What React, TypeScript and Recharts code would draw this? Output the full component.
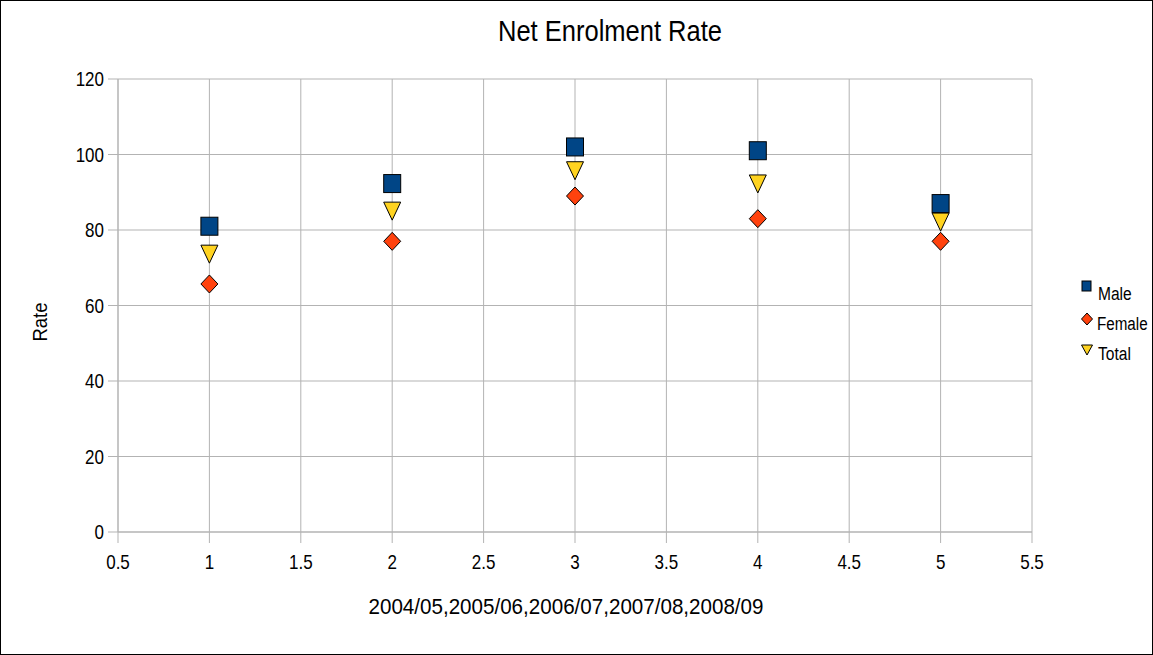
import React from "react";
import { ScatterChart, Scatter, XAxis, YAxis, CartesianGrid } from "recharts";

const years = [1, 2, 3, 4, 5];
const male = [81, 92.3, 102, 101, 87];
const female = [65.7, 77, 89, 83, 77];
const total = [73.6, 85, 95.7, 92.2, 82.1];
const xTicks = [0.5, 1, 1.5, 2, 2.5, 3, 3.5, 4, 4.5, 5, 5.5];
const yTicks = [0, 20, 40, 60, 80, 100, 120];
const seriesNames = ["Male", "Female", "Total"];
const colors = ["#004586", "#ff420e", "#ffd320"];

const FONT = "'Liberation Sans', Arial, sans-serif";
const GRID = "#b3b3b3";

const maleData = years.map((x, i) => ({ x, y: male[i] }));
const femaleData = years.map((x, i) => ({ x, y: female[i] }));
const totalData = years.map((x, i) => ({ x, y: total[i] }));

const SquareShape = (p: any) => (
  <rect x={p.cx - 8.5} y={p.cy - 9} width={17} height={18} fill={colors[0]} stroke="#000" strokeWidth={1} />
);
const DiamondShape = (p: any) => (
  <polygon
    points={`${p.cx},${p.cy - 9} ${p.cx + 8.5},${p.cy} ${p.cx},${p.cy + 9} ${p.cx - 8.5},${p.cy}`}
    fill={colors[1]}
    stroke="#000"
    strokeWidth={1}
  />
);
const TriangleShape = (p: any) => (
  <polygon
    points={`${p.cx - 8.5},${p.cy - 9} ${p.cx + 8.5},${p.cy - 9} ${p.cx},${p.cy + 9}`}
    fill={colors[2]}
    stroke="#000"
    strokeWidth={1}
  />
);

const XTick = (p: any) => (
  <text
    transform={`translate(${p.x},${p.y}) scale(0.85,1)`}
    textAnchor="middle"
    dy="0.71em"
    fontSize={20}
    fontFamily={FONT}
    fill="#000"
  >
    {p.payload.value}
  </text>
);
const YTick = (p: any) => (
  <text
    transform={`translate(${p.x},${p.y}) scale(0.85,1)`}
    textAnchor="end"
    dy="0.355em"
    fontSize={20}
    fontFamily={FONT}
    fill="#000"
  >
    {p.payload.value}
  </text>
);

export default function App() {
  return (
    <div
      style={{
        position: "absolute",
        left: 0,
        top: 0,
        width: 1153,
        height: 655,
        boxSizing: "border-box",
        border: "1px solid #000",
        background: "#fff",
        fontFamily: FONT,
      }}
    >
      <div style={{ position: "absolute", left: -1, top: -1 }}>
        <ScatterChart width={1153} height={655} margin={{ top: 79, right: 121, left: 58, bottom: 83 }}>
          <CartesianGrid stroke={GRID} strokeWidth={1} />
          <XAxis
            type="number"
            dataKey="x"
            domain={[0.5, 5.5]}
            ticks={xTicks}
            height={40}
            tickSize={11}
            tickMargin={12}
            axisLine={{ stroke: GRID }}
            tickLine={{ stroke: GRID }}
            tick={XTick}
            interval={0}
          />
          <YAxis
            type="number"
            dataKey="y"
            domain={[0, 120]}
            ticks={yTicks}
            width={60}
            tickSize={10}
            tickMargin={4}
            axisLine={{ stroke: GRID }}
            tickLine={{ stroke: GRID }}
            tick={YTick}
            interval={0}
          />
          <Scatter name={seriesNames[0]} data={maleData} shape={SquareShape} isAnimationActive={false} />
          <Scatter name={seriesNames[2]} data={totalData} shape={TriangleShape} isAnimationActive={false} />
          <Scatter name={seriesNames[1]} data={femaleData} shape={DiamondShape} isAnimationActive={false} />
        </ScatterChart>
      </div>
      <svg
        width={1153}
        height={655}
        style={{ position: "absolute", left: -1, top: -1, pointerEvents: "none" }}
      >
        <text
          x={610}
          y={41}
          textAnchor="middle"
          fontSize={30}
          fontFamily={FONT}
          fill="#000"
          textLength={224}
          lengthAdjust="spacingAndGlyphs"
        >
          Net Enrolment Rate
        </text>
        <text
          x={566}
          y={614}
          textAnchor="middle"
          fontSize={22}
          fontFamily={FONT}
          fill="#000"
          textLength={395}
          lengthAdjust="spacingAndGlyphs"
        >
          2004/05,2005/06,2006/07,2007/08,2008/09
        </text>
        <text
          x={47}
          y={322}
          textAnchor="middle"
          fontSize={21}
          fontFamily={FONT}
          fill="#000"
          textLength={39}
          lengthAdjust="spacingAndGlyphs"
          transform="rotate(-90 47 322)"
        >
          Rate
        </text>
        <g fontFamily={FONT} fontSize={19} fill="#000">
          <rect x={1082} y={281} width={9} height={10} fill={colors[0]} stroke="#000" />
          <text transform="translate(1098,300) scale(0.82,1)">{seriesNames[0]}</text>
          <polygon points="1087,313 1092.5,319 1087,325 1081.5,319" fill={colors[1]} stroke="#000" />
          <text transform="translate(1097,330) scale(0.8,1)">{seriesNames[1]}</text>
          <polygon points="1081.5,345 1092.5,345 1087,355" fill={colors[2]} stroke="#000" />
          <text transform="translate(1098,360) scale(0.82,1)">{seriesNames[2]}</text>
        </g>
      </svg>
    </div>
  );
}
